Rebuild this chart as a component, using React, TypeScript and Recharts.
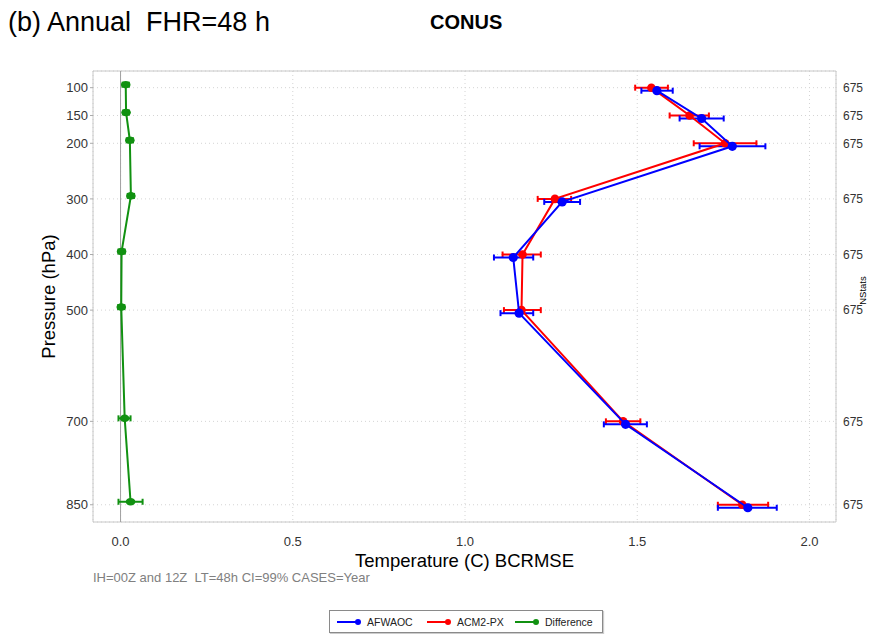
import React from 'react'
import { ScatterChart, Scatter, XAxis, YAxis, CartesianGrid, ErrorBar, ReferenceLine, ReferenceArea, Label } from 'recharts'

const levels = [100, 150, 200, 300, 400, 500, 700, 850]
const nStats = [675, 675, 675, 675, 675, 675, 675, 675]

const afwaoc = [1.557, 1.687, 1.776, 1.282, 1.140, 1.157, 1.466, 1.821]
const afwaocLo = [1.512, 1.623, 1.681, 1.230, 1.084, 1.103, 1.403, 1.734]
const afwaocHi = [1.603, 1.751, 1.872, 1.334, 1.198, 1.198, 1.528, 1.905]

const acm2 = [1.541, 1.652, 1.755, 1.261, 1.167, 1.164, 1.459, 1.805]
const acm2Lo = [1.494, 1.594, 1.664, 1.211, 1.109, 1.113, 1.409, 1.734]
const acm2Hi = [1.589, 1.708, 1.846, 1.308, 1.220, 1.220, 1.509, 1.880]

const diff = [0.015, 0.016, 0.027, 0.030, 0.003, 0.002, 0.012, 0.029]
const diffLo = [0.006, 0.008, 0.018, 0.021, -0.006, -0.007, -0.006, -0.006]
const diffHi = [0.024, 0.024, 0.036, 0.039, 0.012, 0.011, 0.029, 0.064]

const xTicks = [0, 0.5, 1, 1.5, 2]
const X_DOMAIN: [number, number] = [-0.08, 2.077]
const Y_DOMAIN: [number, number] = [70, 881]

// small vertical dodge so the three series don't sit on top of each other (~3px)
const DODGE = 5.4

const BLUE = '#0000ff'
const RED = '#ff0000'
const GREEN = '#119111'
const FONT = '"Liberation Sans", Arial, sans-serif'

function build(vals: number[], lo: number[], hi: number[], shift: number) {
  return levels.map((p, i) => ({
    p: p + shift,
    v: vals[i],
    err: [vals[i] - lo[i], hi[i] - vals[i]],
  }))
}

const blueData = build(afwaoc, afwaocLo, afwaocHi, DODGE)
const redData = build(acm2, acm2Lo, acm2Hi, 0)
const greenData = build(diff, diffLo, diffHi, -DODGE)

const dot = (color: string, rx: number, ry: number) => (props: any) =>
  <ellipse cx={props.cx} cy={props.cy} rx={rx} ry={ry} fill={color} />

const legendItems = [
  { name: 'AFWAOC', color: BLUE, left: 7 },
  { name: 'ACM2-PX', color: RED, left: 97 },
  { name: 'Difference', color: GREEN, left: 185 },
]

export default function App() {
  return (
    <div style={{ position: 'absolute', left: 0, top: 0, width: 877, height: 634, background: '#fff', fontFamily: FONT, overflow: 'hidden' }}>
      <div style={{ position: 'absolute', left: 8, top: 9, fontSize: 27, lineHeight: '27px', color: '#000', whiteSpace: 'pre' }}>
        {'(b) Annual  FHR=48 h'}
      </div>
      <div style={{ position: 'absolute', left: 430, top: 12, fontSize: 20, lineHeight: '20px', fontWeight: 'bold', color: '#000' }}>
        CONUS
      </div>

      <ScatterChart width={877} height={634} margin={{ top: 71, right: 0, bottom: 82, left: 3 }} style={{ position: 'absolute', left: 0, top: 0 }}>
        <CartesianGrid stroke="#d4d4d4" strokeDasharray="1 3" />
        <XAxis
          type="number"
          dataKey="v"
          domain={X_DOMAIN}
          allowDataOverflow
          ticks={xTicks}
          tickFormatter={(v: number) => v.toFixed(1)}
          tick={{ fontSize: 13, fill: '#333', fontFamily: FONT }}
          tickLine={false}
          axisLine={false}
          tickSize={6}
          tickMargin={9}
          height={30}
        >
          <Label value="Temperature (C) BCRMSE" position="bottom" offset={2} style={{ fontSize: 18.5, fill: '#000', fontFamily: FONT }} />
        </XAxis>
        <YAxis
          type="number"
          dataKey="p"
          domain={Y_DOMAIN}
          allowDataOverflow
          reversed
          ticks={levels}
          tick={{ fontSize: 13, fill: '#333', fontFamily: FONT }}
          tickLine={{ stroke: '#aaa' }}
          axisLine={false}
          tickSize={3}
          tickMargin={2}
          width={90}
        >
          <Label value="Pressure (hPa)" angle={-90} position="center" style={{ fontSize: 18.5, fill: '#000', fontFamily: FONT, textAnchor: 'middle' }} />
        </YAxis>
        <YAxis
          yAxisId="right"
          orientation="right"
          type="number"
          domain={Y_DOMAIN}
          allowDataOverflow
          reversed
          ticks={levels}
          tickFormatter={(v: number) => String(nStats[levels.indexOf(v)])}
          tick={{ fontSize: 12, fill: '#333', fontFamily: FONT, textAnchor: 'start' }}
          tickLine={false}
          axisLine={false}
          tickSize={4}
          tickMargin={3}
          width={41}
        >
          <Label value="NStats" angle={-90} position="center" dx={6} dy={-6} style={{ fontSize: 9.5, fill: '#000', fontFamily: FONT, textAnchor: 'middle' }} />
        </YAxis>
        <ReferenceArea x1={X_DOMAIN[0]} x2={X_DOMAIN[1]} y1={Y_DOMAIN[0]} y2={Y_DOMAIN[1]} fill="none" stroke="#c8c8c8" strokeWidth={1} fillOpacity={0} />
        <ReferenceLine x={0} stroke="#a0a0a0" strokeWidth={1} />

        <Scatter data={redData} line={{ stroke: RED, strokeWidth: 2 }} lineJointType="linear" shape={dot(RED, 4.3, 4.3)} isAnimationActive={false}>
          <ErrorBar dataKey="err" direction="x" width={3} stroke={RED} strokeWidth={2} isAnimationActive={false} />
        </Scatter>
        <Scatter data={blueData} line={{ stroke: BLUE, strokeWidth: 2 }} lineJointType="linear" shape={dot(BLUE, 4.6, 4.6)} isAnimationActive={false}>
          <ErrorBar dataKey="err" direction="x" width={3} stroke={BLUE} strokeWidth={2} isAnimationActive={false} />
        </Scatter>
        <Scatter data={greenData} line={{ stroke: GREEN, strokeWidth: 2 }} lineJointType="linear" shape={dot(GREEN, 4.8, 3.8)} isAnimationActive={false}>
          <ErrorBar dataKey="err" direction="x" width={3} stroke={GREEN} strokeWidth={2} isAnimationActive={false} />
        </Scatter>
      </ScatterChart>

      <div style={{ position: 'absolute', left: 93, top: 571, fontSize: 13, lineHeight: '13px', color: '#808080', whiteSpace: 'pre' }}>
        {'IH=00Z and 12Z  LT=48h CI=99% CASES=Year'}
      </div>

      <div style={{ position: 'absolute', left: 329, top: 610, width: 274, height: 23, border: '1px solid #8a8a8a', boxShadow: '1px 1px 1px #ccc', boxSizing: 'border-box', fontSize: 10.5, color: '#222' }}>
        {legendItems.map((it) => (
          <div key={it.name} style={{ position: 'absolute', left: it.left, top: 0, height: 21, display: 'flex', alignItems: 'center', whiteSpace: 'nowrap' }}>
            <svg width={26} height={8} style={{ marginRight: 4, display: 'block' }}>
              <line x1={0} y1={4} x2={21} y2={4} stroke={it.color} strokeWidth={2} />
              <circle cx={21} cy={4} r={3} fill={it.color} />
            </svg>
            <span>{it.name}</span>
          </div>
        ))}
      </div>
    </div>
  )
}
